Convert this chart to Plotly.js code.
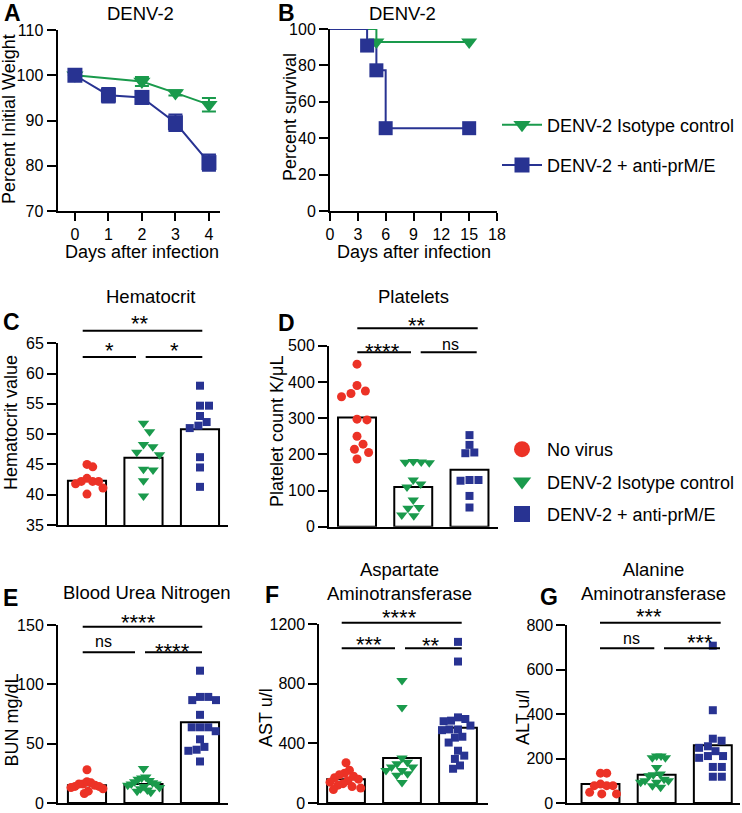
<!DOCTYPE html>
<html><head><meta charset="utf-8">
<script src="https://cdn.plot.ly/plotly-3.0.1.min.js"></script>
<style>html,body{margin:0;padding:0;background:#fff;overflow:hidden}</style>
</head><body><div id="chart" style="width:742px;height:813px"></div>
<script>
// ---------------- DATA ----------------
const weightDaysIso = [0, 2, 3, 4];
const weightIso = [100, 98.6, 96.1, 93.5];
const weightIsoErr = [0, 1.0, 0.6, 1.5];
const weightDaysAnti = [0, 1, 2, 3, 4];
const weightAnti = [100, 95.6, 95.1, 89.5, 80.7];
const weightAntiErr = [0, 1.6, 1.4, 1.8, 1.8];

const survDaysIso = [0, 5, 15];
const survIso = [100, 92.9, 92.9];
const survDaysAnti = [0, 4, 5, 6, 15];
const survAnti = [100, 90.9, 77.3, 45.5, 45.5];

const groupNames = ['No virus', 'DENV-2 Isotype control', 'DENV-2 + anti-prM/E'];
const seriesNames = ['DENV-2 Isotype control', 'DENV-2 + anti-prM/E'];

const hctNoVirus = [45.0, 44.6, 42.7, 42.2, 42.2, 42.2, 41.8, 41.1, 40.1];
const hctIsotype = [51.8, 50.4, 48.3, 47.9, 47.0, 46.6, 44.2, 44.1, 42.3, 39.8];
const hctAnti = [58.0, 54.7, 54.7, 53.0, 52.0, 51.4, 51.0, 46.2, 44.5, 41.3];
const hctMeans = [42.3, 46.1, 50.8];

const pltNoVirus = [449, 390, 375, 368, 359, 297, 295, 250, 228, 214, 205, 187];
const pltIsotype = [180, 179, 178, 177, 129, 118, 110, 74, 53, 51, 32, 30];
const pltAnti = [253, 226, 205, 203, 129, 129, 127, 85, 53];
const pltMeans = [302, 110, 157];

const bunNoVirus = [28, 18, 17, 16, 16, 15, 14, 14, 13, 12, 10, 8];
const bunIsotype = [29, 22, 21, 20, 19, 18, 17, 16, 16, 15, 14, 13, 12, 11, 10, 9];
const bunAnti = [111.5, 89.4, 89.4, 86.7, 86.7, 74.3, 63.8, 63.8, 63.8, 60.5, 53.7, 47.3, 44.9, 44.0, 35.0];
const bunMeans = [15, 16, 68];

const astNoVirus = [270, 220, 200, 190, 180, 170, 160, 150, 140, 130, 120, 110, 100, 90];
const astIsotype = [823, 641, 303, 274, 263, 241, 241, 219, 219, 197, 186, 138];
const astAnti = [1082, 950, 575, 564, 553, 549, 520, 494, 494, 489, 445, 439, 406, 351, 318, 296, 252, 230];
const astMeans = [160, 303, 505];

const altNoVirus = [134, 134, 85, 78, 78, 78, 48, 41, 41];
const altIsotype = [211, 211, 203, 203, 159, 130, 127, 122, 107, 100, 100, 93, 93, 78, 71];
const altAnti = [707, 417, 289, 280, 255, 248, 233, 211, 211, 203, 162, 162, 118, 118];
const altMeans = [85, 127, 259];

// ---------------- STYLE / LAYOUT HELPERS ----------------
const W = 742, H = 813;
const px = v => v / W;
const py = v => 1 - v / H;
const FONT = 'Liberation Sans, Arial, Helvetica, sans-serif';
const RED = '#ec3226', GREEN = '#1a9a4c', BLUE = '#283392';
const grpColors = [RED, GREEN, BLUE];
const grpSymbols = ['circle', 'triangle-down', 'square'];
const grpSizes = [9, 10, 8];
const SPREAD = 16; // max horizontal half-spread of points, px

const tickFont = {family: FONT, size: 16, color: '#000'};
function axisBase() {
  return {showline: true, linecolor: '#000', linewidth: 2, ticks: 'outside', ticklen: 9,
    tickwidth: 2, tickcolor: '#000', showgrid: false, zeroline: false, tickfont: tickFont,
    ticklabeloverflow: 'allow', fixedrange: true, automargin: false};
}

// panel geometry (pixels)
const panels = [
  {id: 3, xd: [58, 228], yd: [343.3, 525], xr: [-0.513, 2.496], yr: [35, 65], dt: 5,
    data: [hctNoVirus, hctIsotype, hctAnti], means: hctMeans},
  {id: 4, xd: [329, 498], yd: [345.7, 526.7], xr: [-0.498, 2.507], yr: [0, 500], dt: 100,
    data: [pltNoVirus, pltIsotype, pltAnti], means: pltMeans},
  {id: 5, xd: [58, 228], yd: [625, 803], xr: [-0.513, 2.496], yr: [0, 150], dt: 50,
    data: [bunNoVirus, bunIsotype, bunAnti], means: bunMeans},
  {id: 6, xd: [319.3, 488], yd: [624.3, 803], xr: [-0.477, 2.536], yr: [0, 1200], dt: 400,
    data: [astNoVirus, astIsotype, astAnti], means: astMeans},
  {id: 7, xd: [567.3, 740], yd: [625, 803], xr: [-0.591, 2.484], yr: [0, 800], dt: 200,
    data: [altNoVirus, altIsotype, altAnti], means: altMeans}
];

// deterministic beeswarm: returns x offsets in axis units (compressed to SPREAD px)
function swarm(vals, yPx, xPx, d) {
  const idx = vals.map((v, i) => i).sort((a, b) => vals[b] - vals[a]);
  const placed = [], offPx = new Array(vals.length);
  idx.forEach(i => {
    const y = vals[i] * yPx;
    const iv = [];
    placed.forEach(p => {
      const dy = Math.abs(p.y - y);
      if (dy < d) { const w = Math.sqrt(d * d - dy * dy); iv.push([p.x - w, p.x + w]); }
    });
    const cands = [0];
    iv.forEach(q => cands.push(q[0], q[1]));
    cands.sort((a, b) => (Math.abs(a) - Math.abs(b)) || (b - a));
    let x = 0;
    for (const c of cands) {
      if (iv.every(q => c <= q[0] + 1e-6 || c >= q[1] - 1e-6)) { x = c; break; }
    }
    placed.push({x, y});
    offPx[i] = x;
  });
  const m = Math.max(...offPx.map(Math.abs));
  const k = m > SPREAD ? SPREAD / m : 1;
  return offPx.map(o => o * k / xPx);
}

const traces = [];
const layout = {
  width: W, height: H, margin: {l: 0, r: 0, t: 0, b: 0},
  paper_bgcolor: '#fff', plot_bgcolor: 'rgba(0,0,0,0)',
  font: {family: FONT, color: '#000'},
  showlegend: true,
  annotations: [], shapes: []
};

// ---- Panel A: weight ----
layout.xaxis = Object.assign(axisBase(), {domain: [px(57.5), px(220)], range: [-0.52, 4.33],
  tick0: 0, dtick: 1, ticklen: 8, anchor: 'y'});
layout.yaxis = Object.assign(axisBase(), {domain: [py(211), py(30)], range: [70, 110],
  tick0: 70, dtick: 10, anchor: 'x'});
traces.push({type: 'scatter', mode: 'lines+markers', x: weightDaysIso, y: weightIso,
  name: seriesNames[0], legend: 'legend', legendgroup: 'l1',
  line: {color: GREEN, width: 2}, marker: {symbol: 'triangle-down', size: 15, color: GREEN},
  error_y: {type: 'data', array: weightIsoErr, color: GREEN, thickness: 2, width: 7},
  xaxis: 'x', yaxis: 'y', cliponaxis: false});
traces.push({type: 'scatter', mode: 'lines+markers', x: weightDaysAnti, y: weightAnti,
  name: seriesNames[1], legend: 'legend', legendgroup: 'l2',
  line: {color: BLUE, width: 2}, marker: {symbol: 'square', size: 15, color: BLUE},
  error_y: {type: 'data', array: weightAntiErr, color: BLUE, thickness: 2, width: 7},
  xaxis: 'x', yaxis: 'y', cliponaxis: false});

// ---- Panel B: survival ----
layout.xaxis2 = Object.assign(axisBase(), {domain: [px(330), px(497)], range: [0, 18],
  tick0: 0, dtick: 3, ticklen: 8, anchor: 'y2'});
layout.yaxis2 = Object.assign(axisBase(), {domain: [py(211), py(29)], range: [0, 100],
  tick0: 0, dtick: 20, anchor: 'x2'});
traces.push({type: 'scatter', mode: 'lines', x: survDaysIso, y: survIso, line: {color: GREEN, width: 2, shape: 'hv'},
  showlegend: false, xaxis: 'x2', yaxis: 'y2', cliponaxis: false});
traces.push({type: 'scatter', mode: 'lines', x: survDaysAnti, y: survAnti, line: {color: BLUE, width: 2, shape: 'hv'},
  showlegend: false, xaxis: 'x2', yaxis: 'y2', cliponaxis: false});
traces.push({type: 'scatter', mode: 'markers', x: survDaysIso.slice(1), y: survIso.slice(1),
  marker: {symbol: 'triangle-down', size: 14, color: GREEN}, showlegend: false, xaxis: 'x2', yaxis: 'y2', cliponaxis: false});
traces.push({type: 'scatter', mode: 'markers', x: survDaysAnti.slice(1), y: survAnti.slice(1),
  marker: {symbol: 'square', size: 14, color: BLUE}, showlegend: false, xaxis: 'x2', yaxis: 'y2', cliponaxis: false});

// ---- Bar panels ----
panels.forEach(p => {
  const xa = 'xaxis' + p.id, ya = 'yaxis' + p.id;
  layout[xa] = Object.assign(axisBase(), {domain: [px(p.xd[0]), px(p.xd[1])], range: p.xr,
    ticks: '', showticklabels: false, anchor: 'y' + p.id});
  layout[ya] = Object.assign(axisBase(), {domain: [py(p.yd[1]), py(p.yd[0])], range: p.yr,
    tick0: p.yr[0], dtick: p.dt, anchor: 'x' + p.id});
  const yPx = (p.yd[1] - p.yd[0]) / (p.yr[1] - p.yr[0]);
  const xPx = (p.xd[1] - p.xd[0]) / (p.xr[1] - p.xr[0]);
  traces.push({type: 'bar', x: [0, 1, 2], y: p.means, width: 0.675,
    marker: {color: '#fff', line: {color: '#000', width: 2}}, showlegend: false,
    xaxis: 'x' + p.id, yaxis: 'y' + p.id});
  p.data.forEach((vals, g) => {
    const off = swarm(vals, yPx, xPx, grpSizes[g] + 1);
    traces.push({type: 'scatter', mode: 'markers', x: off.map(o => g + o), y: vals,
      marker: {symbol: grpSymbols[g], size: grpSizes[g], color: grpColors[g]},
      showlegend: false, cliponaxis: false, xaxis: 'x' + p.id, yaxis: 'y' + p.id});
  });
});

// legend 2 entries
groupNames.forEach((n, g) => {
  traces.push({type: 'scatter', mode: 'markers', x: [null], y: [null], name: n,
    marker: {symbol: grpSymbols[g], size: 16, color: grpColors[g]},
    legend: 'legend2', legendgroup: 'g' + g, xaxis: 'x3', yaxis: 'y3'});
});

layout.legend = {x: px(497), xanchor: 'left', y: py(145), yanchor: 'middle', itemwidth: 40,
  font: {family: FONT, size: 18, color: '#000'}, bgcolor: 'rgba(0,0,0,0)', tracegroupgap: 14};
layout.legend2 = {x: px(497), xanchor: 'left', y: py(482), yanchor: 'middle', itemwidth: 40,
  font: {family: FONT, size: 18, color: '#000'}, bgcolor: 'rgba(0,0,0,0)', tracegroupgap: 6};

// ---- annotations ----
function txt(t, x, y, size, opts) {
  layout.annotations.push(Object.assign({text: t, x: px(x), y: py(y), xref: 'paper', yref: 'paper',
    showarrow: false, xanchor: 'center', yanchor: 'middle',
    font: {family: FONT, size: size, color: '#000'}}, opts || {}));
}
// titles
txt('DENV-2', 140, 13, 18.5);
txt('DENV-2', 402, 13, 18.5);
txt('Hematocrit', 150, 297, 18.5);
txt('Platelets', 413, 297, 18.5);
txt('Blood Urea Nitrogen', 147, 592, 18.5);
txt('Aspartate<br>Aminotransferase', 400, 581, 18.5);
txt('Alanine<br>Aminotransferase', 653, 581, 18.5);
// panel letters
[['A', 12.5, 12.5], ['B', 286, 12.5], ['C', 11, 322], ['D', 286, 323], ['E', 10, 598], ['F', 272, 595], ['G', 549, 597]]
  .forEach(l => txt('<b>' + l[0] + '</b>', l[1], l[2], 23));
// axis titles
txt('Percent Initial Weight', 9, 119, 18, {textangle: -90});
txt('Days after infection', 142, 252, 18);
txt('Percent survival', 290, 117, 18, {textangle: -90});
txt('Days after infection', 414, 252, 18);
txt('Hematocrit value', 11, 423, 18, {textangle: -90});
txt('Platelet count K/μL', 277, 432, 18, {textangle: -90});
txt('BUN mg/dL', 11.5, 720, 18, {textangle: -90});
txt('AST u/l', 266, 718, 18, {textangle: -90});
txt('ALT u/l', 523, 718, 18, {textangle: -90});

// significance brackets: [y, x0, x1, label, labelX, labelY]
const sig = [
  [330.7, 82.7, 202.3, '**', 140, 318.5], [357, 82.7, 136, '*', 109, 345], [357, 145.7, 202.3, '*', 174, 345],
  [328.3, 357.3, 477.7, '**', 416.7, 320], [352.3, 357.3, 411, '****', 383, 346], [352.3, 420.7, 476.7, 'ns', 450, 346],
  [626.7, 82.7, 202.3, '****', 138, 617.3], [652.3, 82.7, 135, 'ns', 103.3, 643], [652.3, 145, 202, '****', 172.7, 646],
  [622.7, 341.7, 461.7, '****', 399.3, 612.7], [648.3, 341.7, 395, '***', 369.3, 639.3], [648.3, 405, 461.7, '**', 430.7, 640],
  [622.7, 600, 720.7, '***', 649.3, 611], [648.3, 600, 654.3, 'ns', 631, 640], [648.3, 664, 720, '***', 700, 637.3]
];
sig.forEach(s => {
  layout.shapes.push({type: 'line', xref: 'paper', yref: 'paper', x0: px(s[1]), x1: px(s[2]),
    y0: py(s[0]), y1: py(s[0]), line: {color: '#000', width: 2}});
  if (s[3] === 'ns') txt('ns', s[4], s[5] - 1.4, 16);
  else txt(s[3], s[4], s[5] + 5.1, 22);
});

Plotly.newPlot('chart', traces, layout, {staticPlot: true, displayModeBar: false});
</script>
</body></html>
